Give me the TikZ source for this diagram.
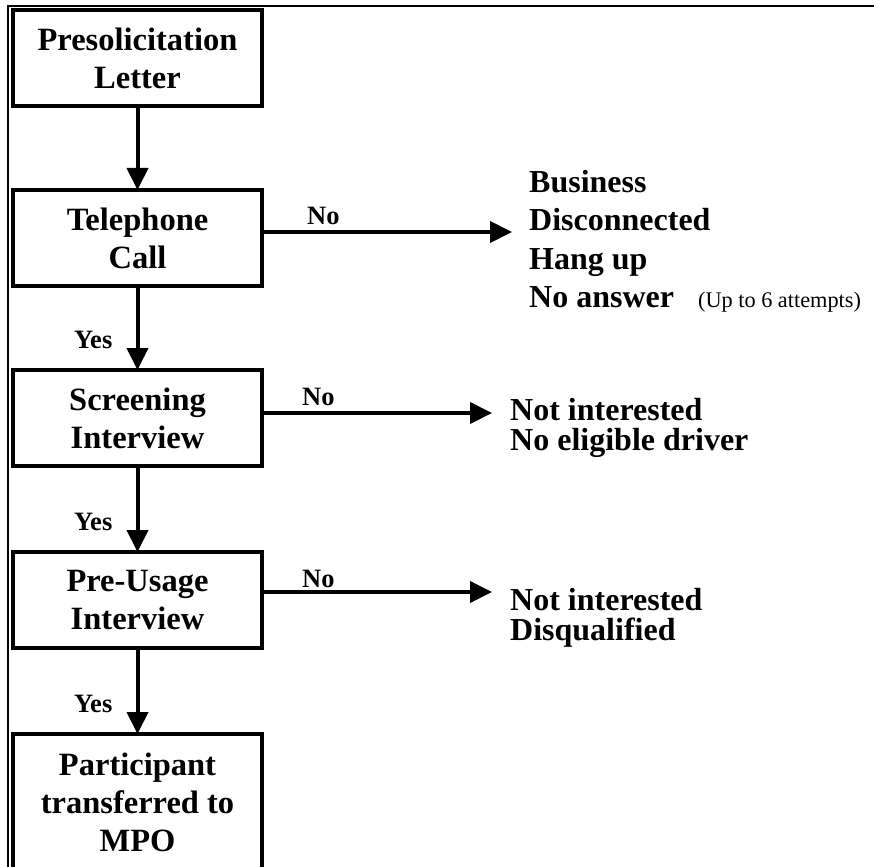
\documentclass[tikz,border=0pt]{standalone}
\usepackage{fontspec}
\setmainfont{Liberation Serif}
\usetikzlibrary{arrows.meta,calc}
\begin{document}
\begin{tikzpicture}[x=1pt,y=-1pt,
  stage/.style={draw,line width=4pt,minimum width=249pt,minimum height=96pt,
    inner sep=0pt,outer sep=0pt,align=center,font=\bfseries\fontsize{32.5}{38}\selectfont},
  lowered/.style={execute at begin node={\rule{0pt}{28pt}}},
  flow/.style={line width=4pt,-{Triangle[length=22pt,width=21pt]}},
  tag/.style={inner sep=0pt,font=\bfseries\fontsize{26.5}{30}\selectfont},
  result/.style={inner sep=0pt,align=left,anchor=north west,font=\bfseries\fontsize{32}{38.5}\selectfont}]
\useasboundingbox (0,0) rectangle (874,866);
\draw[line width=1.5pt] (8,872) -- (8,6) -- (878,6);
\foreach \N/\Y/\T in {pre/58/{Presolicitation\\Letter},tel/238/{Telephone\\Call},
  scr/418/{Screening\\Interview},use/600/{Pre-Usage\\Interview}}
  \node[stage,lowered] (\N) at (137.5,\Y) {\T};
\node[stage,minimum height=136pt] (mpo) at (137.5,802) {Participant\\transferred to\\MPO};
\foreach \A/\B in {pre/tel,tel/scr,scr/use,use/mpo}
  \draw[flow] (\A.south) -- (\B.north);
\foreach \B in {scr,use,mpo}
  \node[tag,anchor=base east] (yes-\B) at ([xshift=-25pt,yshift=22pt]\B.north) {Yes};
\node[result] (out-tel) at (529,170) {Business\\Disconnected\\Hang up\\No answer\hspace{24pt}{\mdseries\fontsize{22.3}{26}\selectfont(Up to 6 attempts)}};
\node[result,font=\bfseries\fontsize{32}{30}\selectfont] (out-scr) at (510,398) {Not interested\\No eligible driver};
\node[result,font=\bfseries\fontsize{32}{30}\selectfont] (out-use) at (510,588) {Not interested\\Disqualified};
\foreach \N/\D/\G/\X in {tel/6/17/45,scr/5/18/40,use/8/18/40}{
  \draw[flow,shorten >=\G pt] ([yshift=\D pt]\N.east) -- ([yshift=\D pt]\N.east -| out-\N.west);
  \node[tag,anchor=base west] (no-\N) at ([xshift=\X pt,yshift=13pt]\N.east) {No};}
\end{tikzpicture}
\end{document}
